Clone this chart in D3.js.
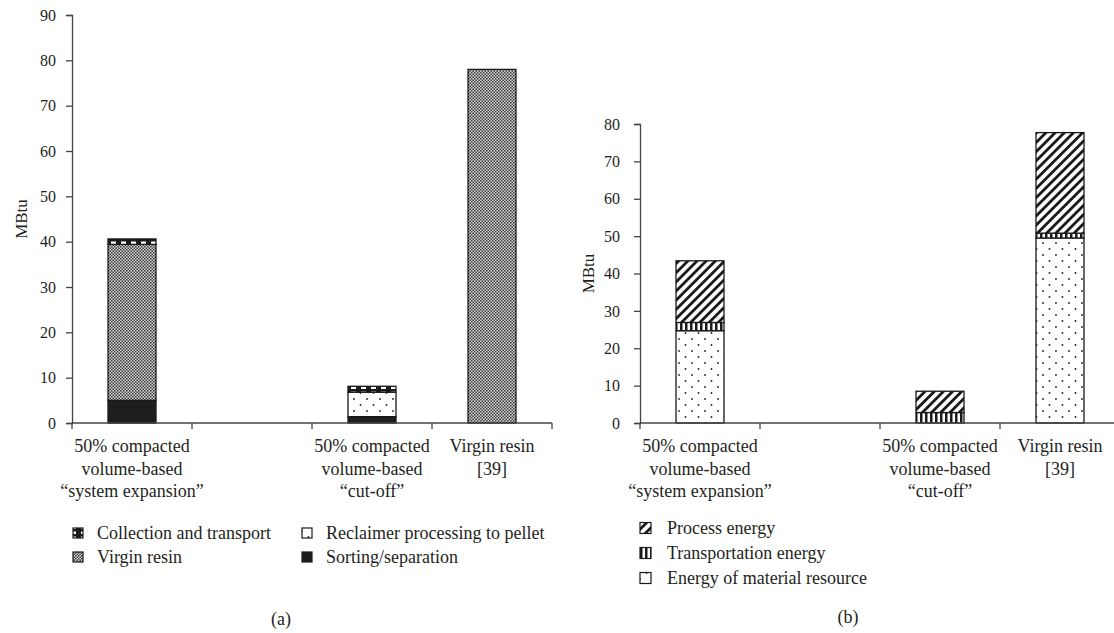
<!DOCTYPE html>
<html>
<head>
<meta charset="utf-8">
<script src="https://cdn.jsdelivr.net/npm/d3@7"></script>
<style>
  body { margin: 0; background: #fff; }
  svg { display: block; }
  text { font-family: "Liberation Serif", "Times New Roman", serif; fill: #231f20; }
</style>
</head>
<body>
<svg id="chart" width="1114" height="633"></svg>
<script>
// ---------- Data ----------
const categories = [
  ["50% compacted", "volume-based", "\u201Csystem expansion\u201D"],
  [],
  ["50% compacted", "volume-based", "\u201Ccut-off\u201D"],
  ["Virgin resin", "[39]"]
];
// Panel (a)
const aSeriesNames = ["Sorting/separation", "Virgin resin", "Reclaimer processing to pellet", "Collection and transport"];
const aSorting     = [5.0, 0, 1.4, 0];
const aVirgin      = [34.4, 0, 0, 78.0];
const aReclaimer   = [0, 0, 5.4, 0];
const aCollection  = [1.2, 0, 1.3, 0];
const aTicks = [0, 10, 20, 30, 40, 50, 60, 70, 80, 90];
// Panel (b)
const bSeriesNames = ["Energy of material resource", "Transportation energy", "Process energy"];
const bMaterial  = [24.7, 0, 0, 49.5];
const bTransport = [2.2, 0, 2.8, 1.3];
const bProcess   = [16.5, 0, 5.7, 26.9];
const bTicks = [0, 10, 20, 30, 40, 50, 60, 70, 80];

const svg = d3.select("#chart");
const defs = svg.append("defs");

// ---------- Patterns ----------
// fine checker (virgin resin)
{
  const p = defs.append("pattern").attr("id", "pVirgin").attr("patternUnits", "userSpaceOnUse")
    .attr("width", 3).attr("height", 3);
  p.append("rect").attr("width", 3).attr("height", 3).attr("fill", "#d8d8d8");
  p.append("rect").attr("x", 0).attr("y", 0).attr("width", 1.5).attr("height", 1.5).attr("fill", "#3a3a3a");
  p.append("rect").attr("x", 1.5).attr("y", 1.5).attr("width", 1.5).attr("height", 1.5).attr("fill", "#3a3a3a");
}
// sparse dots
{
  const p = defs.append("pattern").attr("id", "pDots").attr("patternUnits", "userSpaceOnUse")
    .attr("width", 13).attr("height", 12);
  p.append("rect").attr("width", 13).attr("height", 12).attr("fill", "#fff");
  p.append("circle").attr("cx", 3).attr("cy", 3).attr("r", 0.9).attr("fill", "#222");
  p.append("circle").attr("cx", 9.5).attr("cy", 9).attr("r", 0.9).attr("fill", "#222");
}
// checker band (collection and transport)
{
  const p = defs.append("pattern").attr("id", "pCollect").attr("patternUnits", "userSpaceOnUse")
    .attr("width", 10).attr("height", 5);
  p.append("rect").attr("width", 10).attr("height", 5).attr("fill", "#1a1a1a");
  p.append("rect").attr("x", 1).attr("y", 1.5).attr("width", 5).attr("height", 2.5).attr("fill", "#fff");
}
// diagonal stripes (process energy)
{
  const p = defs.append("pattern").attr("id", "pDiag").attr("patternUnits", "userSpaceOnUse")
    .attr("width", 6.5).attr("height", 6.5).attr("patternTransform", "rotate(45)");
  p.append("rect").attr("width", 6.5).attr("height", 6.5).attr("fill", "#fff");
  p.append("rect").attr("x", 0).attr("y", 0).attr("width", 2.8).attr("height", 6.5).attr("fill", "#1a1a1a");
}
// vertical stripes (transport energy)
{
  const p = defs.append("pattern").attr("id", "pVert").attr("patternUnits", "userSpaceOnUse")
    .attr("width", 5).attr("height", 5);
  p.append("rect").attr("width", 5).attr("height", 5).attr("fill", "#fff");
  p.append("rect").attr("x", 0).attr("y", 0).attr("width", 2.5).attr("height", 5).attr("fill", "#1a1a1a");
}

const fillA = {
  "Sorting/separation": "#1e1e1e",
  "Virgin resin": "url(#pVirgin)",
  "Reclaimer processing to pellet": "url(#pDots)",
  "Collection and transport": "url(#pCollect)"
};
const fillB = {
  "Energy of material resource": "url(#pDots)",
  "Transportation energy": "url(#pVert)",
  "Process energy": "url(#pDiag)"
};

function panel(opts) {
  const g = svg.append("g");
  const x = d3.scaleBand().domain(d3.range(categories.length)).range([opts.x0, opts.x1]).padding(0);
  const y = d3.scaleLinear().domain([0, opts.ymax]).range([opts.y0, opts.y1]);

  const rows = categories.map((c, i) => {
    const r = { i };
    opts.series.forEach((s, k) => r[s] = opts.values[k][i]);
    return r;
  });
  const stack = d3.stack().keys(opts.series)(rows);
  const bw = x.bandwidth() * 0.4;

  stack.forEach(layer => {
    g.append("g").selectAll("rect")
      .data(layer.filter(d => d[1] - d[0] > 0))
      .join("rect")
      .attr("x", d => x(d.data.i) + (x.bandwidth() - bw) / 2)
      .attr("width", bw)
      .attr("y", d => y(d[1]))
      .attr("height", d => y(d[0]) - y(d[1]))
      .attr("fill", opts.fills[layer.key])
      .attr("stroke", "#1a1a1a")
      .attr("stroke-width", 1.3);
  });

  // y axis
  const ya = d3.axisLeft(y).tickValues(opts.ticks).tickSize(6).tickPadding(opts.tickPad).tickSizeOuter(6);
  const yg = g.append("g").attr("transform", `translate(${opts.x0},0)`).call(ya);
  yg.selectAll("path, line").attr("stroke", "#444").attr("stroke-width", 1.3);
  yg.selectAll("text").style("font-family", "Liberation Serif, serif").style("font-size", "16px").attr("fill", "#231f20");

  // x axis with ticks at band boundaries
  const xg = g.append("g").attr("transform", `translate(0,${opts.y0})`);
  xg.append("line").attr("x1", opts.x0).attr("x2", opts.xAxisEnd).attr("stroke", "#444").attr("stroke-width", 1.3);
  const bounds = d3.range(categories.length + 1).map(i => i < categories.length ? x(i) : opts.x1);
  xg.selectAll("line.tk").data(bounds).join("line").attr("class", "tk")
    .attr("x1", d => d).attr("x2", d => d).attr("y1", 0).attr("y2", 6)
    .attr("stroke", "#444").attr("stroke-width", 1.3);
  categories.forEach((lines, i) => {
    const t = xg.append("text").attr("text-anchor", "middle").style("font-size", "18px")
      .attr("transform", `translate(${x(i) + x.bandwidth() / 2},0)`);
    lines.forEach((ln, j) => t.append("tspan").attr("x", 0).attr("y", 29 + j * 22.5).text(ln));
  });

  // y label
  g.append("text").attr("text-anchor", "middle").style("font-size", "17px")
    .attr("transform", `translate(${opts.labelX},${(opts.y0 + opts.y1) / 2}) rotate(-90)`)
    .attr("dy", "0.35em").text("MBtu");
  return g;
}

panel({
  x0: 72, x1: 552, xAxisEnd: 552, y0: 423, y1: 15, ymax: 90, ticks: aTicks, tickPad: 10,
  series: aSeriesNames, values: [aSorting, aVirgin, aReclaimer, aCollection], fills: fillA, labelX: 21
});
panel({
  x0: 640, x1: 1120, xAxisEnd: 1114, y0: 423, y1: 124, ymax: 80, ticks: bTicks, tickPad: 14,
  series: bSeriesNames, values: [bMaterial, bTransport, bProcess], fills: fillB, labelX: 588
});

// ---------- Legends ----------
const legA = [
  { name: "Collection and transport", x: 73, y: 533 },
  { name: "Reclaimer processing to pellet", x: 302, y: 533 },
  { name: "Virgin resin", x: 73, y: 557 },
  { name: "Sorting/separation", x: 302, y: 557 }
];
legA.forEach(d => {
  svg.append("rect").attr("x", d.x).attr("y", d.y - 5).attr("width", 10).attr("height", 10)
    .attr("fill", fillA[d.name]).attr("stroke", "#1a1a1a").attr("stroke-width", 1.2);
  svg.append("text").attr("x", d.x + 24).attr("y", d.y).attr("dy", "0.33em").style("font-size", "18px").text(d.name);
});
const legB = [
  { name: "Process energy", y: 528 },
  { name: "Transportation energy", y: 553 },
  { name: "Energy of material resource", y: 578 }
];
legB.forEach(d => {
  svg.append("rect").attr("x", 640).attr("y", d.y - 5.5).attr("width", 11).attr("height", 11)
    .attr("fill", fillB[d.name]).attr("stroke", "#1a1a1a").attr("stroke-width", 1.2);
  svg.append("text").attr("x", 667).attr("y", d.y).attr("dy", "0.33em").style("font-size", "18px").text(d.name);
});

svg.append("text").attr("x", 281).attr("y", 619).attr("dy", "0.33em").attr("text-anchor", "middle").style("font-size", "18px").text("(a)");
svg.append("text").attr("x", 848).attr("y", 617).attr("dy", "0.33em").attr("text-anchor", "middle").style("font-size", "18px").text("(b)");
</script>
</body>
</html>
